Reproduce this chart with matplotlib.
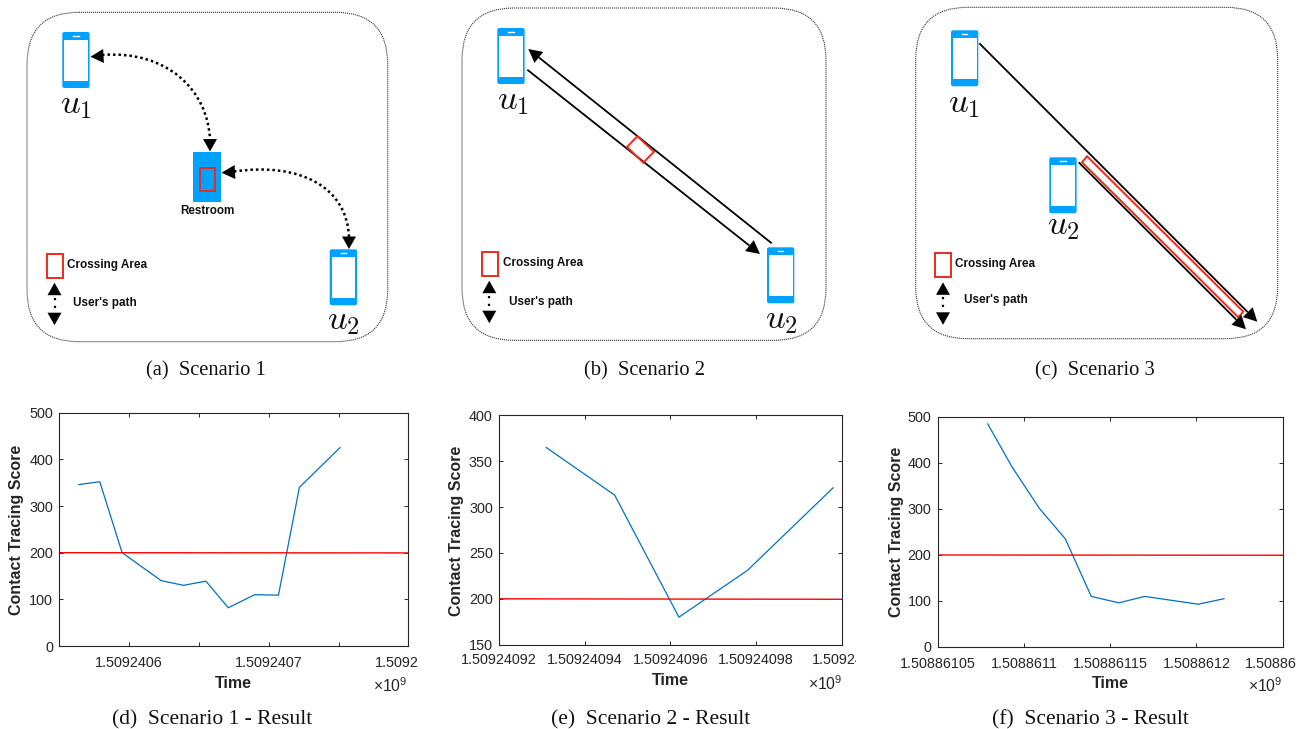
import numpy as np
import matplotlib
matplotlib.use("Agg")
import matplotlib.pyplot as plt
from matplotlib.patches import FancyBboxPatch, Rectangle, Polygon, PathPatch
from matplotlib.path import Path
from matplotlib.transforms import Bbox

W, H = 1302, 729
plt.rcParams['font.family'] = ['Liberation Sans', 'DejaVu Sans']
plt.rcParams['mathtext.fontset'] = 'custom'
plt.rcParams['mathtext.rm'] = 'Liberation Sans'

# result curves (time in seconds, score)
time_d = [1509240564, 1509240579, 1509240595, 1509240623, 1509240639, 1509240655,
          1509240671, 1509240690, 1509240707, 1509240722, 1509240751]
score_d = [346, 352, 200, 140, 130, 139, 82, 110, 109, 340, 425]
time_e = [1509240931, 1509240947, 1509240962, 1509240978, 1509240998]
score_e = [365, 313, 180, 231, 321]
time_f = [1508861079, 1508861093, 1508861109, 1508861124, 1508861139,
          1508861155, 1508861170, 1508861201, 1508861216]
score_f = [485, 392, 301, 235, 110, 96, 110, 93, 105]
threshold = [200, 199.5]

xticks_d = [1509240550, 1509240600, 1509240650, 1509240700, 1509240750, 1509240800]
xlabels_d = ['', '1.5092406', '', '1.5092407', '', '1.5092408']
xticks_e = [1509240920, 1509240940, 1509240960, 1509240980, 1509241000]
xlabels_e = ['1.50924092', '1.50924094', '1.50924096', '1.50924098', '1.509241']
xticks_f = [1508861050, 1508861100, 1508861150, 1508861200, 1508861250]
xlabels_f = ['1.50886105', '1.5088611', '1.50886115', '1.5088612', '1.50886125']
yticks_d = [0, 100, 200, 300, 400, 500]
yticks_e = [150, 200, 250, 300, 350, 400]
yticks_f = [0, 100, 200, 300, 400, 500]

captions = ['(a)  Scenario 1', '(b)  Scenario 2', '(c)  Scenario 3',
            '(d)  Scenario 1 - Result', '(e)  Scenario 2 - Result', '(f)  Scenario 3 - Result']

BLUE = '#00A2FF'
RED = '#EE2A1B'
INK = '#262626'

fig = plt.figure(figsize=(W / 100, H / 100), dpi=100)
bg = fig.add_axes([0, 0, 1, 1])
bg.set_xlim(0, W)
bg.set_ylim(H, 0)
bg.axis('off')


def frame(x0, y0, x1, y1):
    bg.add_patch(FancyBboxPatch((x0, y0), x1 - x0, y1 - y0, boxstyle='round,pad=0,rounding_size=52',
                                fc='none', ec='#333333', lw=0.8, ls=(0, (1, 0.8))))


def phone(x, y, label, lx, ly):
    bg.add_patch(FancyBboxPatch((x, y), 27.3, 56, boxstyle='round,pad=0,rounding_size=2', fc=BLUE, ec='none'))
    bg.add_patch(Rectangle((x + 1.8, y + 7.6), 23.7, 41.4, fc='white', ec='none'))
    bg.plot([x + 11, x + 16.3], [y + 3.8, y + 3.8], color='white', lw=1)
    bg.text(lx, ly, label, fontsize=25, math_fontfamily='cm', ha='center', va='center', color='#111111')


def head(tip, base, width=14):
    tip, base = np.array(tip, float), np.array(base, float)
    d = tip - base
    n = np.array([-d[1], d[0]]) / np.hypot(*d) * width / 2
    bg.add_patch(Polygon([tip, base + n, base - n], fc='black', ec='none', zorder=4))


def straight(start, tip, hl=13.5):
    start, tip = np.array(start, float), np.array(tip, float)
    u = (tip - start) / np.hypot(*(tip - start))
    base = tip - u * hl
    bg.plot([start[0], base[0]], [start[1], base[1]], color='black', lw=1.3, solid_capstyle='butt')
    head(tip, base)


def dotted_curve(p0, c1, c2, p3):
    path = Path([p0, c1, c2, p3], [Path.MOVETO, Path.CURVE4, Path.CURVE4, Path.CURVE4])
    bg.add_patch(PathPatch(path, fc='none', ec='black', lw=1.8, ls=(0, (1, 1.2))))


def legend(rx, ry, tx, ty, ax_x, up_y, ux, uy):
    # crossing area box + user's path key
    bg.add_patch(Rectangle((rx, ry), 16, 23.5, fc='white', ec=RED, lw=1.4))
    bg.text(tx, ty, 'Crossing Area', fontsize=8.5, fontweight='bold', va='center', color='#111111')
    head((ax_x, up_y), (ax_x, up_y + 12.5))
    head((ax_x, up_y + 42.5), (ax_x, up_y + 30))
    bg.plot([ax_x, ax_x], [up_y + 15, up_y + 28], color='black', lw=1.6, ls=(0, (1, 2.5)))
    bg.text(ux, uy, "User's path", fontsize=8.5, fontweight='bold', va='center', color='#111111')


# panel (a)
frame(27, 12.3, 387.7, 341.7)
phone(62.3, 32, '$u_1$', 76.5, 104)
phone(329.7, 249.3, '$u_2$', 343.5, 320.5)
bg.add_patch(Rectangle((193, 152), 28, 49.7, fc=BLUE, ec='none'))
bg.add_patch(Rectangle((199.8, 168), 15, 23, fc='none', ec=RED, lw=1.4))
bg.text(207, 211, 'Restroom', fontsize=8.4, fontweight='bold', ha='center', va='center', color='#111111')
dotted_curve((102, 55), (167, 50), (208, 90), (210, 140))
dotted_curve((234, 171.5), (300, 162), (347, 187), (349, 237))
head((90.5, 56.7), (103.5, 56))
head((210, 151.5), (210, 139))
head((221.5, 172.7), (235, 172))
head((349, 249), (349, 236.5))
legend(46.8, 254, 67.3, 265, 54.5, 282.7, 73.3, 303)

# panel (b)
frame(462, 8, 826, 340.3)
phone(497.3, 28, '$u_1$', 512.7, 100)
phone(767, 247.3, '$u_2$', 781.7, 319)
straight((771.7, 243.3), (528.3, 49))
straight((527.3, 69.7), (760, 254))
bg.add_patch(Polygon([(637.3, 136.3), (654, 151.7), (643.3, 162.7), (627, 147)], fc='none', ec=RED, lw=1.4, zorder=5))
legend(481.7, 252, 502.7, 263, 489.3, 280.7, 509, 302)

# panel (c)
frame(915.7, 7.3, 1277.7, 338.7)
phone(951, 30.3, '$u_1$', 964, 103)
phone(1049.3, 157.3, '$u_2$', 1063.3, 225)
straight((979.3, 43.3), (1257.3, 321.7))
straight((1078.7, 162.3), (1246, 329.3))
bg.add_patch(Polygon([(1082, 162.3), (1087, 156.3), (1243.3, 311.7), (1238.3, 317.3)], fc='white', ec=RED, lw=1.4, zorder=3))
legend(935, 253, 955, 264, 943, 282.3, 963.7, 300)

caption_x = [205.7, 644, 1095, 211.8, 650.7, 1090]
caption_y = [371, 371, 371, 720, 720, 720]
caption_size = [14.8, 14.8, 14.8, 15.5, 15.5, 15.5]
for cx, cy, cs, cap in zip(caption_x, caption_y, caption_size, captions):
    bg.text(cx, cy, cap, family='Liberation Serif', fontsize=cs, ha='center', va='center', color='#111111')


def result(box, t, s, xticks, xlabels, yticks, ylim, clip_x, xpad, time_xy, ylab_xy, exp_xy):
    l, r, top, bot = box
    ax = fig.add_axes([l / W, 1 - bot / H, (r - l) / W, (bot - top) / H])
    ax.plot(t, s, color='#0072BD', lw=0.9)
    ax.plot([xticks[0], xticks[-1]], threshold, color='#FF0000', lw=1)
    ax.set_xlim(xticks[0], xticks[-1])
    ax.set_ylim(*ylim)
    ax.set_xticks(xticks)
    ax.set_xticklabels(xlabels)
    ax.set_yticks(yticks)
    ax.tick_params(direction='in', top=True, right=True, length=3, width=0.7, color=INK,
                   labelcolor=INK, labelsize=10.4)
    ax.tick_params(axis='x', pad=xpad)
    ax.tick_params(axis='y', pad=4.5)
    for side in ax.spines.values():
        side.set_color(INK)
        side.set_linewidth(0.8)
    # last x label runs off the edge in the original
    last = ax.xaxis.get_major_ticks()[-1].label1
    last.set_clip_on(True)
    last.set_clip_box(Bbox([[0, 0], [clip_x, H]]))
    bg.text(*time_xy, 'Time', fontsize=11.5, fontweight='bold', ha='center', va='center', color=INK)
    bg.text(*ylab_xy, 'Contact Tracing Score', fontsize=11.5, fontweight='bold', rotation=90,
            ha='center', va='center', color=INK)
    bg.text(*exp_xy, '×10$^{\\mathrm{9}}$', fontsize=11.3, ha='left', va='center', color=INK)


result((59.3, 408.3, 412.7, 646), time_d, score_d, xticks_d, xlabels_d, yticks_d, (0, 500), 418, 7,
       (233.3, 683.3), (17, 530), (373, 686))
result((499, 841.7, 415.3, 644.7), time_e, score_e, xticks_e, xlabels_e, yticks_e, (150, 400), 856, 6,
       (670, 680.7), (457, 531), (807.7, 683.5))
result((937.7, 1282.7, 417, 647), time_f, score_f, xticks_f, xlabels_f, yticks_f, (0, 500), 1296, 7,
       (1110, 683.3), (896, 532), (1247.7, 686))

fig.savefig('out.png', dpi=100)
